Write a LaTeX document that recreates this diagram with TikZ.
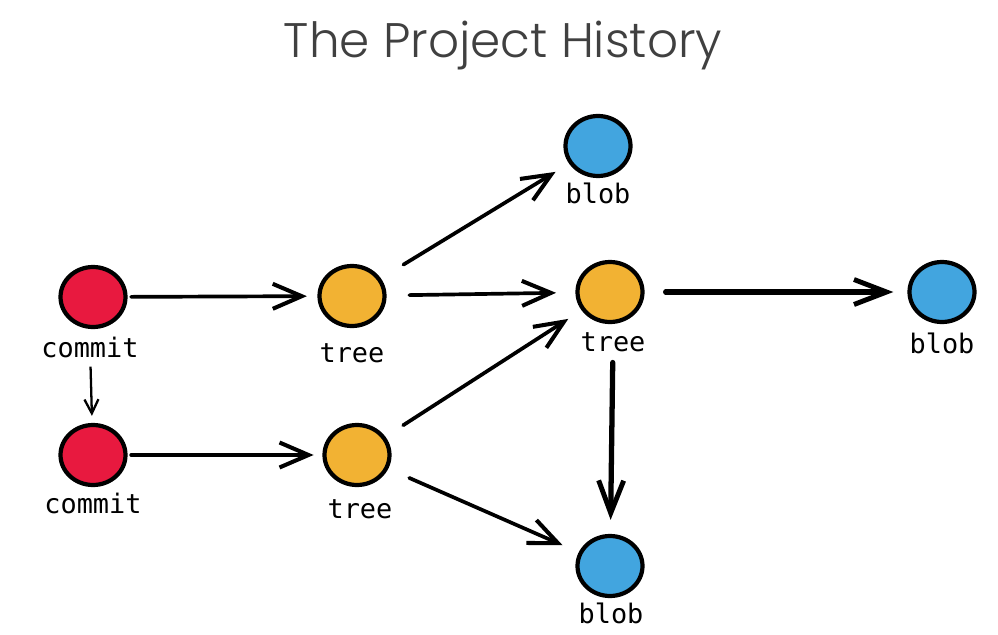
\documentclass[tikz,border=0pt]{standalone}
\usepackage{fontspec}
\setmonofont{DejaVu Sans Mono}
\newfontfamily\titlefont{Poppins Light}
\usepackage{tikz}
\usetikzlibrary{arrows.meta, positioning, shapes.geometric}
\definecolor{commitred}{HTML}{E8193F}
\definecolor{treeorange}{HTML}{F2B233}
\definecolor{blobblue}{HTML}{42A5DF}
\definecolor{titlegray}{HTML}{404040}
\tikzset{obj/.style={ellipse, draw=black, line width=2.4pt, minimum width=1.3cm,
		minimum height=1.2cm, inner sep=0pt},
	commit/.style={obj, fill=commitred},
	tree/.style={obj, fill=treeorange},
	blob/.style={obj, fill=blobblue},
	lbl/.style={font=\ttfamily\fontsize{15.3}{17}\selectfont, inner sep=0pt},
	link/.style={line width=2.1pt, line cap=round,
		-{Straight Barb[length=0.58cm, width=0.5cm, line width=2.3pt]}},
	fat/.style={link, line width=3pt,
		-{Straight Barb[length=0.65cm, width=0.5cm, line width=2.8pt]}}}

\begin{document}
\begin{tikzpicture}[x=0.02cm, y=-0.02cm]
		\useasboundingbox (0,0) rectangle (998,635);
		\node[text=titlegray, font=\titlefont\fontsize{27.6}{30}\selectfont] (title) at (503,46) {The Project History};
		% objects
		\node[commit] (c1) at (93,297) {};
		\node[commit] (c2) at (93,455) {};
		\node[tree] (t1) at (352,296) {};
		\node[tree] (t2) at (357,455) {};
		\node[tree] (t3) at (610,292) {};
		\node[blob] (b1) at (598,146) {};
		\node[blob] (b2) at (942,292) {};
		\node[blob] (b3) at (610,566) {};
		% labels
		\node[lbl] (c1l) at (90,347) {commit};
		\node[lbl] (c2l) at (93,503) {commit};
		\node[lbl] (t1l) at (352,353) {tree};
		\node[lbl] (t2l) at (360,509) {tree};
		\node[lbl] (t3l) at (613,342) {tree};
		\node[lbl] (b1l) at (598,193) {blob};
		\node[lbl] (b2l) at (942,343) {blob};
		\node[lbl] (b3l) at (611,613) {blob};
		% links
		\draw[line width=1.3pt, -{Straight Barb[length=0.28cm, width=0.28cm, line width=1.3pt]},
		  shorten <=5, shorten >=4] (c1l) -- (c2);
		\draw[link, shorten <=2, shorten >=6] (c1) -- (t1);
		\draw[link, shorten <=2, shorten >=5] (c2) -- (t2);
		\draw[link, shorten <=15, shorten >=9] (t1) -- (b1);
		\draw[link, shorten <=13, shorten >=11] (t1) -- (t3);
		\draw[link, shorten <=12, shorten >=9] (t2) -- (t3);
		\draw[link, shorten <=13, shorten >=10] (t2) -- (b3);
		\draw[fat, shorten <=12, shorten >=8] (t3) -- (b2);
		\draw[fat, shorten <=6, shorten >=8] (t3l) -- (b3);
	\end{tikzpicture}
\end{document}
